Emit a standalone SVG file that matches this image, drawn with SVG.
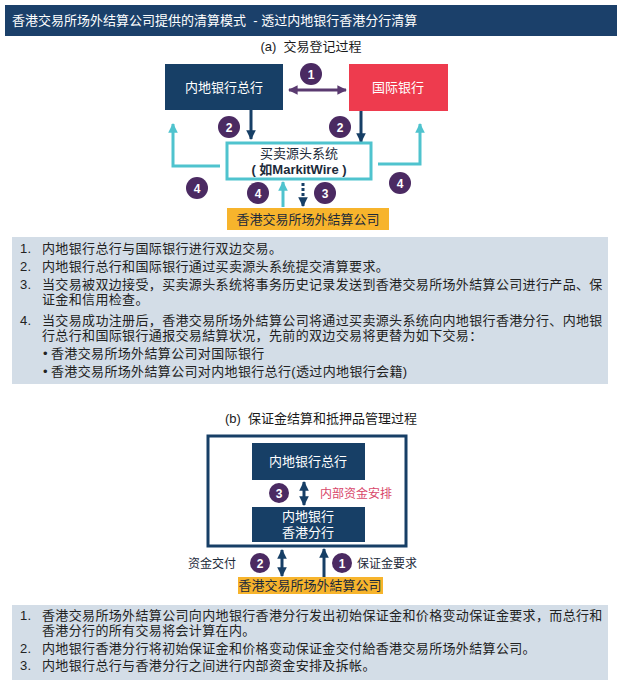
<svg xmlns="http://www.w3.org/2000/svg" width="617" height="687" viewBox="0 0 617 687">
<style>
  text { font-family: "Liberation Sans", "Noto Sans CJK SC", sans-serif; }
  .hdr { fill: #ffffff; font-size: 13px; }
  .sub { fill: #1a1a1a; font-size: 13px; text-anchor: middle; }
  .wt { fill: #ffffff; font-size: 13px; text-anchor: middle; }
  .dk { fill: #1c2a3a; font-size: 13px; text-anchor: middle; }
  .num { fill: #ffffff; font-size: 12px; font-weight: bold; text-anchor: middle; }
  .p { fill: #222222; font-size: 13px; letter-spacing: 0.35px; }
  .lab { fill: #1c2a3a; font-size: 12px; }
  .navy { fill: #173f66; }
  .circ { fill: #4b2a62; }
  .panel { fill: #d3dde7; }
  .yel { fill: #f7b42c; }
</style>
<defs>
  <marker id="ahNavy" viewBox="0 0 10 10" refX="9" refY="5" markerWidth="3.2" markerHeight="3.2" orient="auto-start-reverse">
    <path d="M0,0 L10,5 L0,10 z" fill="#173f66"/>
  </marker>
  <marker id="ahCyan" viewBox="0 0 10 10" refX="9" refY="5" markerWidth="3.2" markerHeight="3.2" orient="auto-start-reverse">
    <path d="M0,0 L10,5 L0,10 z" fill="#4fc3ce"/>
  </marker>
  <marker id="ahPurple" viewBox="0 0 10 10" refX="9" refY="5" markerWidth="3.2" markerHeight="3.2" orient="auto-start-reverse">
    <path d="M0,0 L10,5 L0,10 z" fill="#5a3a70"/>
  </marker>
</defs>

<rect x="0" y="0" width="617" height="687" fill="#ffffff"/>

<!-- header -->
<g id="header">
  <rect x="5" y="5" width="612" height="31" fill="#1b406a"/>
  <text class="hdr" x="12" y="25">香港交易所场外结算公司提供的清算模式&#160;&#160;- 透过内地银行香港分行清算</text>
</g>

<text class="sub" x="311" y="51">(a)&#160;&#160;交易登记过程</text>

<!-- connectors (a) -->
<g id="connectors-a" fill="none">
  <line x1="289" y1="90" x2="346" y2="90" stroke="#5a3a70" stroke-width="3" marker-start="url(#ahPurple)" marker-end="url(#ahPurple)"/>
  <line x1="251" y1="110" x2="251" y2="139" stroke="#173f66" stroke-width="3" marker-end="url(#ahNavy)"/>
  <line x1="361" y1="111" x2="361" y2="142" stroke="#173f66" stroke-width="3" marker-end="url(#ahNavy)"/>
  <polyline points="220,166 173,166 173,124" stroke="#4fc3ce" stroke-width="3" marker-end="url(#ahCyan)"/>
  <polyline points="378,164 420,164 420,124" stroke="#4fc3ce" stroke-width="3" marker-end="url(#ahCyan)"/>
  <line x1="283" y1="207" x2="283" y2="182" stroke="#4fc3ce" stroke-width="3" marker-end="url(#ahCyan)"/>
  <line x1="303" y1="183" x2="303" y2="206" stroke="#173f66" stroke-width="3" stroke-dasharray="3,2" marker-end="url(#ahNavy)"/>
</g>

<g id="hq-a">
  <rect class="navy" x="165" y="64" width="118" height="46"/>
  <text class="wt" x="224" y="92">内地银行总行</text>
</g>
<g id="intl-bank">
  <rect x="349" y="64" width="99" height="47" fill="#ee3b4e"/>
  <text class="wt" x="398" y="92">国际银行</text>
</g>
<g id="markitwire">
  <rect x="227" y="143" width="144" height="36" fill="#ffffff" stroke="#4fc3ce" stroke-width="3"/>
  <text class="dk" x="299" y="158">买卖源头系统</text>
  <text class="dk" x="299" y="174" font-weight="bold">( 如MarkitWire )</text>
</g>
<g id="otc-clear-a">
  <rect class="yel" x="227" y="208" width="162" height="22"/>
  <text class="dk" x="308" y="224">香港交易所场外結算公司</text>
</g>

<g id="badges-a">
  <circle class="circ" cx="311" cy="74" r="11"/><text class="num" x="311" y="78.5">1</text>
  <circle class="circ" cx="229" cy="127" r="11"/><text class="num" x="229" y="131.5">2</text>
  <circle class="circ" cx="340" cy="127" r="11"/><text class="num" x="340" y="131.5">2</text>
  <circle class="circ" cx="197" cy="188" r="11"/><text class="num" x="197" y="192.5">4</text>
  <circle class="circ" cx="258" cy="193" r="11"/><text class="num" x="258" y="197.5">4</text>
  <circle class="circ" cx="325" cy="193" r="11"/><text class="num" x="325" y="197.5">3</text>
  <circle class="circ" cx="400" cy="183" r="11"/><text class="num" x="400" y="187.5">4</text>
</g>

<!-- panel 1 -->
<g id="notes-a">
  <rect class="panel" x="12" y="237" width="596" height="147"/>
  <text class="p" x="20" y="253">1.</text>
  <text class="p" x="42" y="253">内地银行总行与国际银行进行双边交易。</text>
  <text class="p" x="20" y="271">2.</text>
  <text class="p" x="42" y="271">内地银行总行和国际银行通过买卖源头系统提交清算要求。</text>
  <text class="p" x="20" y="289">3.</text>
  <text class="p" x="42" y="289">当交易被双边接受，买卖源头系统将事务历史记录发送到香港交易所场外結算公司进行产品、保</text>
  <text class="p" x="42" y="304">证金和信用检查。</text>
  <text class="p" x="20" y="325">4.</text>
  <text class="p" x="42" y="325">当交易成功注册后，香港交易所场外結算公司将通过买卖源头系统向内地银行香港分行、内地银</text>
  <text class="p" x="42" y="340">行总行和国际银行通报交易結算状况，先前的双边交易将更替为如下交易：</text>
  <text class="p" x="43" y="358">•</text>
  <text class="p" x="51" y="358">香港交易所场外結算公司对国际银行</text>
  <text class="p" x="43" y="376">•</text>
  <text class="p" x="51" y="376">香港交易所场外結算公司对内地银行总行(透过内地银行会籍)</text>
</g>

<text class="sub" x="321" y="423">(b)&#160;&#160;保证金结算和抵押品管理过程</text>

<g id="mainland-bank-group">
  <rect x="208" y="436" width="198" height="110" fill="#ffffff" stroke="#173f66" stroke-width="3"/>
</g>
<g id="hq-b">
  <rect class="navy" x="252" y="443" width="113" height="37"/>
  <text class="wt" x="308" y="466">内地银行总行</text>
</g>
<g id="hk-branch">
  <rect class="navy" x="252" y="507" width="113" height="35"/>
  <text class="wt" x="308" y="521">内地银行</text>
  <text class="wt" x="308" y="537">香港分行</text>
</g>
<g id="otc-clear-b">
  <rect class="yel" x="238" y="577" width="145" height="17"/>
  <text class="dk" x="310" y="590">香港交易所场外結算公司</text>
</g>

<!-- connectors (b) -->
<g id="connectors-b" fill="none">
  <line x1="304" y1="482" x2="304" y2="505" stroke="#173f66" stroke-width="3" marker-start="url(#ahNavy)" marker-end="url(#ahNavy)"/>
  <line x1="282" y1="550" x2="282" y2="576" stroke="#173f66" stroke-width="3" marker-start="url(#ahNavy)" marker-end="url(#ahNavy)"/>
  <line x1="324" y1="577" x2="324" y2="549" stroke="#173f66" stroke-width="3" marker-end="url(#ahNavy)"/>
</g>

<g id="badges-b">
  <circle class="circ" cx="279" cy="493" r="10"/><text class="num" x="279" y="497.5">3</text>
  <circle class="circ" cx="260" cy="563" r="10"/><text class="num" x="260" y="567.5">2</text>
  <circle class="circ" cx="342" cy="563" r="10"/><text class="num" x="342" y="567.5">1</text>
  <text x="320" y="498" font-size="12" fill="#d8466a">内部资金安排</text>
  <text class="lab" x="188" y="568">资金交付</text>
  <text class="lab" x="357" y="568">保证金要求</text>
</g>

<!-- panel 2 -->
<g id="notes-b">
  <rect class="panel" x="12" y="605" width="596" height="75"/>
  <text class="p" x="20" y="620">1.</text>
  <text class="p" x="42" y="620">香港交易所场外結算公司向内地银行香港分行发出初始保证金和价格变动保证金要求，而总行和</text>
  <text class="p" x="42" y="635">香港分行的所有交易将会计算在内。</text>
  <text class="p" x="20" y="653">2.</text>
  <text class="p" x="42" y="653">内地银行香港分行将初始保证金和价格变动保证金交付給香港交易所场外結算公司。</text>
  <text class="p" x="20" y="670">3.</text>
  <text class="p" x="42" y="670">内地银行总行与香港分行之间进行内部资金安排及拆帐。</text>
</g>
</svg>
